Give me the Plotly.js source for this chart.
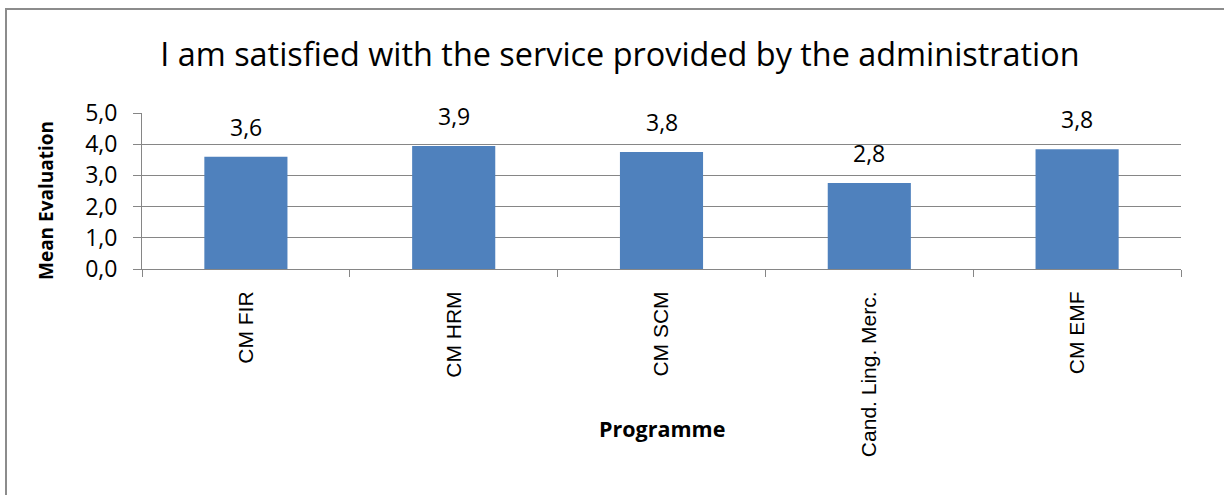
<!DOCTYPE html>
<html>
<head>
<meta charset="utf-8">
<script src="https://cdn.plot.ly/plotly-3.0.1.min.js"></script>
<style>
  html, body { margin: 0; padding: 0; background: #fff; overflow: hidden; }
  #chart { width: 1224px; height: 495px; }
  #frame { position: absolute; left: 5px; top: 8px; width: 1300px; height: 600px;
           border-left: 2px solid #8c8c8c; border-top: 2px solid #8c8c8c; pointer-events: none; }
</style>
</head>
<body>
<div id="chart"></div>
<div id="frame"></div>
<script>
const categories = ["CM FIR", "CM HRM", "CM SCM", "Cand. Ling. Merc.", "CM EMF"];
const meanValues = [3.60, 3.94, 3.75, 2.76, 3.84];
const yTickValues = [0, 1, 2, 3, 4, 5];

const FONT = "'Open Sans', sans-serif";
const CAT_FONT = "'Liberation Sans', Arial, sans-serif";

const trace = {
  type: "bar",
  x: categories,
  y: meanValues,
  marker: { color: "#4F81BD", line: { width: 0 } },
  width: 0.4,
  hoverinfo: "skip"
};

const labelAnnotations = categories.map((c, i) => ({
  x: c, y: meanValues[i], xref: "x", yref: "y",
  text: meanValues[i].toFixed(1).replace(".", ","),
  showarrow: false, yanchor: "bottom", yshift: 12,
  font: { family: FONT, size: 23, color: "#000" }
}));

const axisTitleAnnotations = [
  { text: "<b>Programme</b>", xref: "paper", yref: "paper", x: 0.5, y: 0,
    xanchor: "center", yanchor: "middle", yshift: -159, showarrow: false,
    font: { family: FONT, size: 21.5, color: "#000" } },
  { text: "<b>Mean Evaluation</b>", xref: "paper", yref: "paper", x: 0, y: 0.5,
    xanchor: "center", yanchor: "middle", xshift: -96, yshift: -10, textangle: -90, showarrow: false,
    font: { family: FONT, size: 19, color: "#000" } }
];

const layout = {
  width: 1224, height: 495,
  margin: { l: 142, r: 43, t: 113, b: 226 },
  paper_bgcolor: "#fff", plot_bgcolor: "#fff",
  separators: ",.",
  showlegend: false,
  title: {
    text: "I am satisfied with the service provided by the administration",
    font: { family: FONT, size: 32.4, color: "#000" },
    x: 0.5065, xanchor: "center", y: 0.89, yanchor: "middle"
  },
  xaxis: {
    type: "category",
    tickangle: -90,
    ticks: "outside", ticklen: 7, tickcolor: "#868686", tickwidth: 1,
    tickson: "boundaries",
    showline: true, linecolor: "#868686", linewidth: 1,
    showgrid: false,
    tickfont: { family: CAT_FONT, size: 21, color: "#000" },
    ticklabelstandoff: 13,
    automargin: false
  },
  yaxis: {
    range: [0, 5],
    tickvals: yTickValues,
    tickformat: ".1f",
    ticks: "outside", ticklen: 8, tickcolor: "#868686", tickwidth: 1,
    showline: true, linecolor: "#868686", linewidth: 1,
    showgrid: true, gridcolor: "#868686", gridwidth: 1,
    zeroline: false,
    tickfont: { family: FONT, size: 23, color: "#000" },
    ticklabelstandoff: 11,
    automargin: false
  },
  annotations: labelAnnotations.concat(axisTitleAnnotations)
};

Plotly.newPlot("chart", [trace], layout, { staticPlot: true, displayModeBar: false });
</script>
</body>
</html>
